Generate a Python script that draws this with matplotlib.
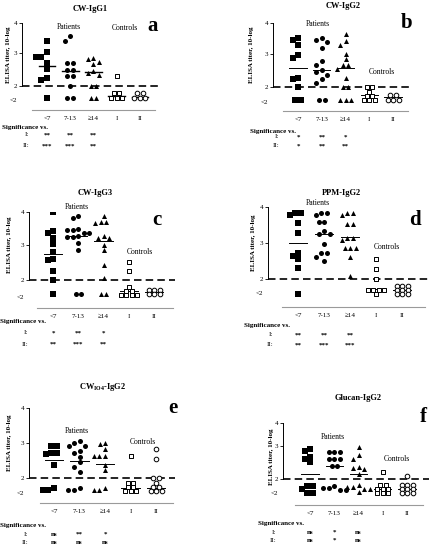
import matplotlib
matplotlib.use("Agg")
import matplotlib.pyplot as plt
import numpy as np

plt.rcParams['font.family'] = ['Liberation Serif', 'DejaVu Serif']
plt.rcParams['mathtext.fontset'] = 'custom'
plt.rcParams['mathtext.rm'] = 'Liberation Serif'
plt.rcParams['mathtext.bf'] = 'Liberation Serif:bold'

W, H = 429, 544

# groups: <7, 7-13, >=14 (patients), I, II (controls); values below 2 are "<2"
groups = ['<7', '7-13', '≥14', 'I', 'II']

cw_igg1 = [[3.38, 3.03, 2.90, 2.90, 2.71, 2.52, 2.25, 2.17, 1.62],
           [3.52, 3.37, 2.71, 2.71, 2.48, 2.48, 2.30, 2.30, 2.0, 1.62, 1.62],
           [2.84, 2.81, 2.73, 2.68, 2.44, 2.39, 2.32, 2.0, 2.0, 1.62, 1.62],
           [2.30, 1.76, 1.76, 1.63, 1.63, 1.63],
           [1.76, 1.76, 1.63, 1.63, 1.63]]
cw_igg1_means = [2.60, 2.46, 2.42, 1.67, 1.66]
cw_igg1_sig = [['**', '**', '**'], ['***', '***', '**']]

cw_igg2 = [[3.49, 3.43, 3.28, 2.97, 2.88, 2.28, 2.25, 2.02, 1.63, 1.63],
           [3.49, 3.44, 3.36, 3.20, 2.81, 2.67, 2.52, 2.45, 2.38, 2.26, 2.12, 1.63, 1.63],
           [3.60, 3.41, 3.28, 3.02, 2.85, 2.67, 2.67, 2.56, 2.28, 2.02, 2.02, 1.63, 1.63, 1.63],
           [2.0, 2.0, 1.87, 1.75, 1.75, 1.63, 1.63, 1.63],
           [1.78, 1.78, 1.63, 1.63, 1.63]]
cw_igg2_means = [2.57, 2.52, 2.57, 1.78, 1.70]
cw_igg2_sig = [['*', '**', '*'], ['*', '**', '**']]

cw_igg3 = [[3.93, 3.40, 3.34, 3.20, 3.03, 2.81, 2.59, 2.56, 2.26, 2.0, 1.59],
           [3.83, 3.78, 3.45, 3.42, 3.42, 3.35, 3.33, 3.25, 3.23, 3.23, 3.05, 2.86, 1.59, 1.59],
           [3.84, 3.65, 3.65, 3.62, 3.27, 3.21, 3.20, 3.0, 2.85, 2.44, 2.05, 1.59, 1.59],
           [2.52, 2.26, 1.80, 1.69, 1.69, 1.58, 1.58, 1.58, 1.58],
           [1.72, 1.72, 1.72, 1.61, 1.61, 1.61]]
cw_igg3_means = [2.74, 3.25, 3.11, 1.68, 1.66]
cw_igg3_sig = [['*', '**', '*'], ['**', '***', '**']]

ppm_igg2 = [[3.81, 3.81, 3.76, 3.53, 3.26, 2.72, 2.65, 2.56, 2.31, 1.61],
            [3.81, 3.81, 3.77, 3.57, 3.56, 3.31, 3.25, 3.23, 2.97, 2.72, 2.72, 2.61, 2.51],
            [3.81, 3.81, 3.76, 3.51, 3.51, 3.14, 3.14, 3.07, 2.86, 2.86, 2.86, 2.61, 2.09],
            [2.56, 2.28, 2.0, 1.72, 1.72, 1.72, 1.72, 1.61],
            [1.83, 1.83, 1.83, 1.72, 1.72, 1.72, 1.61, 1.61, 1.61]]
ppm_igg2_means = [2.98, 3.25, 3.16, 1.74, 1.71]
ppm_igg2_sig = [['**', '**', '**'], ['**', '***', '***']]

cwio4_igg2 = [[2.92, 2.92, 2.72, 2.72, 2.68, 2.35, 1.72, 1.66, 1.66],
              [3.04, 3.00, 2.92, 2.90, 2.75, 2.72, 2.60, 2.45, 2.32, 2.15, 1.72, 1.66, 1.66],
              [3.00, 2.96, 2.82, 2.63, 2.61, 2.61, 2.37, 2.22, 1.72, 1.66, 1.66],
              [2.63, 1.84, 1.84, 1.73, 1.73, 1.62, 1.62, 1.62],
              [2.82, 2.53, 2.0, 2.0, 1.84, 1.73, 1.73, 1.62, 1.62, 1.62]]
cwio4_igg2_means = [2.50, 2.47, 2.38, 1.70, 1.70]
cwio4_igg2_sig = [['ns', '**', '*'], ['ns', 'ns', 'ns']]

glucan_igg2 = [[2.90, 2.86, 2.68, 2.61, 2.51, 1.80, 1.80, 1.70, 1.60, 1.60],
               [2.83, 2.83, 2.83, 2.61, 2.61, 2.61, 2.40, 2.40, 1.80, 1.74, 1.74, 1.68, 1.68],
               [2.96, 2.73, 2.62, 2.38, 2.33, 2.30, 2.15, 1.82, 1.77, 1.77, 1.70, 1.70, 1.62],
               [2.23, 1.84, 1.84, 1.72, 1.72, 1.72, 1.60, 1.60, 1.60],
               [2.10, 1.84, 1.84, 1.84, 1.72, 1.72, 1.72, 1.60, 1.60, 1.60]]
glucan_igg2_means = [2.15, 2.40, 2.15, 1.72, 1.72]
glucan_igg2_sig = [['ns', '*', 'ns'], ['ns', '*', 'ns']]

titles = ['CW-IgG1', 'CW-IgG2', 'CW-IgG3', 'PPM-IgG2',
          r'CW$_{\mathbf{IO4}}$-IgG2', 'Glucan-IgG2']
letters = ['a', 'b', 'c', 'd', 'e', 'f']
panel_data = [cw_igg1, cw_igg2, cw_igg3, ppm_igg2, cwio4_igg2, glucan_igg2]
panel_means = [cw_igg1_means, cw_igg2_means, cw_igg3_means,
               ppm_igg2_means, cwio4_igg2_means, glucan_igg2_means]
panel_sig = [cw_igg1_sig, cw_igg2_sig, cw_igg3_sig,
             ppm_igg2_sig, cwio4_igg2_sig, glucan_igg2_sig]

# pixel layout of each panel
layout = [
    dict(ax_x=22, dash_end=158, c0=47, c4=140, y2=85.7, y3=53.3, y4=22.7, lt2=100, xline_y=110, xline=(32, 155),
         title=(90, 9), letter=(153, 26), patients=(69, 27), controls=(125, 28), ylab=(9, 55),
         sig=(2, 128), rom_x=29, rom_y=(135, 146)),
    dict(ax_x=273, dash_end=412, c0=298, c4=393, y2=87.3, y3=54.3, y4=22.7, lt2=102, xline_y=111, xline=(283, 408),
         title=(343, 6), letter=(407, 23), patients=(318, 24), controls=(382, 72), ylab=(252, 55),
         sig=(250, 131), rom_x=279, rom_y=(137, 146)),
    dict(ax_x=29, dash_end=175, c0=53, c4=154, y2=280, y3=245, y4=211.7, lt2=296.7, xline_y=308, xline=(37, 173),
         title=(95, 193), letter=(157, 220), patients=(77, 207), controls=(140, 252), ylab=(10, 245),
         sig=(0, 322), rom_x=28, rom_y=(333, 344)),
    dict(ax_x=268, dash_end=429, c0=298, c4=402, y2=279.3, y3=242.7, y4=207.3, lt2=293.3, xline_y=307, xline=(282, 425),
         title=(341, 193), letter=(415, 220), patients=(318, 203), controls=(387, 247), ylab=(254, 243),
         sig=(244, 325), rom_x=273, rom_y=(335, 345)),
    dict(ax_x=29, dash_end=175, c0=54, c4=156, y2=477.7, y3=442.7, y4=408.3, lt2=492.7, xline_y=503, xline=(40, 173),
         title=(103, 387), letter=(173, 408), patients=(77, 431), controls=(143, 442), ylab=(10, 443),
         sig=(0, 525), rom_x=28, rom_y=(534, 542)),
    dict(ax_x=283, dash_end=429, c0=310, c4=407, y2=479.3, y3=446, y4=422.7, lt2=492.7, xline_y=505, xline=(295, 423),
         title=(358, 398), letter=(423, 417), patients=(333, 437), controls=(397, 459), ylab=(272, 457),
         sig=(258, 523), rom_x=276, rom_y=(532, 540)),
]

markers = ['s', 'o', '^', 's', 'o']
filled = [True, True, True, False, False]


def swarm(vals, kx, ky, dx=5.5, dy=3.8):
    """Spread points sideways (pixel space): boxes of dx by dy must not collide."""
    offs = [0.0] * len(vals)
    placed = []
    cands = sorted(np.arange(-30, 30.01, 0.5), key=abs)
    for v in sorted(set(vals), reverse=True):
        idx = [i for i, x in enumerate(vals) if x == v]
        n = len(idx)
        base = [(j - (n - 1) / 2) * dx for j in range(n)]
        y = v * ky
        for c in cands:
            if all(abs(b + c - px) >= dx or abs(y - py) >= dy
                   for b in base for px, py in placed):
                break
        for b, i in zip(base, idx):
            placed.append((b + c, y))
            offs[i] = (b + c) / kx
    return offs


def ftext(x, y, s, **kw):
    fig.text(x / W, 1 - y / H, s, va='center', **kw)


fig = plt.figure(figsize=(W / 100, H / 100), dpi=100)

for p, L in enumerate(layout):
    ky = L['y2'] - L['y3']
    kx = (L['c4'] - L['c0']) / 4
    top = 2 + (L['y2'] - L['y4']) / ky
    bottom = 2 - (L['xline_y'] - L['y2']) / ky
    ax = fig.add_axes([L['ax_x'] / W, 1 - L['xline_y'] / H,
                       (L['dash_end'] - L['ax_x']) / W, (L['xline_y'] - L['y4']) / H])
    ax.set_xlim((L['ax_x'] - L['c0']) / kx, (L['dash_end'] - L['c0']) / kx)
    ax.set_ylim(bottom, top)
    ax.patch.set_alpha(0)
    for s in ['top', 'right']:
        ax.spines[s].set_visible(False)
    ax.spines['left'].set_bounds(2, top)
    ax.spines['left'].set_linewidth(0.7)
    ax.spines['bottom'].set_bounds((L['xline'][0] - L['c0']) / kx, (L['xline'][1] - L['c0']) / kx)
    ax.spines['bottom'].set_color('#9a9a9a')
    ax.spines['bottom'].set_linewidth(0.8)

    lt2 = 2 - (L['lt2'] - L['y2']) / ky
    ax.set_yticks([lt2, 2, 3, top])
    ax.set_yticklabels(['<2', '2', '3', '4'], fontsize=5)
    ax.tick_params(axis='y', length=2, width=0.6, pad=1.5)
    ax.yaxis.get_major_ticks()[0].tick1line.set_visible(False)
    ax.set_xticks(range(5))
    ax.set_xticklabels(groups, fontsize=5)
    ax.tick_params(axis='x', length=0, pad=4)

    ax.axhline(2, color='black', lw=1.2, dashes=(4.5, 2.5), zorder=1)

    for g, vals in enumerate(panel_data[p]):
        # patients are spaced out a bit more than the stacked controls
        offs = swarm(vals, kx, ky, dy=5.0 if filled[g] else 3.8)
        xs = [g + o for o in offs]
        if filled[g]:
            ax.scatter(xs, vals, marker=markers[g], s=13, c='black', linewidths=0, zorder=3)
        else:
            ax.scatter(xs, vals, marker=markers[g], s=11, facecolors='white',
                       edgecolors='black', linewidths=0.7, zorder=3)
        m = panel_means[p][g]
        ax.plot([g - 0.36, g + 0.36], [m, m], color='black',
                lw=1.0 if p == 0 else 0.7, zorder=2)

    ftext(*L['title'], titles[p], ha='center', fontsize=6, fontweight='bold')
    ftext(*L['letter'], letters[p], ha='center', fontsize=15, fontweight='bold')
    ftext(*L['patients'], 'Patients', ha='center', fontsize=5.5)
    ftext(*L['controls'], 'Controls', ha='center', fontsize=5.5)
    ftext(*L['ylab'], 'ELISA titer, 10-log', ha='center', rotation=90,
          fontsize=5, fontweight='bold')
    ftext(*L['sig'], 'Significance vs.', ha='left', fontsize=5, fontweight='bold')
    for r, lab in enumerate(['I:', 'II:']):
        ftext(L['rom_x'], L['rom_y'][r], lab, ha='right', fontsize=5)
        for g in range(3):
            ftext(L['c0'] + g * kx, L['rom_y'][r], panel_sig[p][r][g],
                  ha='center', fontsize=5, fontweight='bold')

fig.savefig('out.png', dpi=100)
